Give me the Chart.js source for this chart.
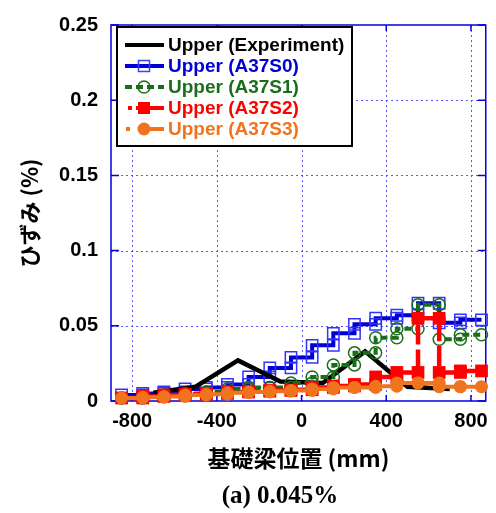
<!DOCTYPE html>
<html>
<head>
<meta charset="utf-8">
<script src="https://cdn.jsdelivr.net/npm/chart.js@4"></script>
<style>
  html, body { margin: 0; padding: 0; background: #fff; }
  canvas { display: block; }
</style>
</head>
<body>
<canvas id="strainChart" width="496" height="513"></canvas>
<script>
// 要素境界位置 (mm)
const elemBounds = [-850, -750, -650, -550, -450, -350, -250, -150, -50, 50, 150, 250, 350, 450, 550, 650, 750, 850];
// 各要素のひずみ (%)
const a37s0 = [0.004, 0.005, 0.006, 0.008, 0.009, 0.011, 0.016, 0.022, 0.029, 0.037, 0.045, 0.051, 0.055, 0.057, 0.065, 0.052, 0.054];
const a37s1 = [0.002, 0.003, 0.004, 0.005, 0.006, 0.008, 0.009, 0.009, 0.012, 0.016, 0.024, 0.032, 0.042, 0.048, 0.064, 0.041, 0.044];
const a37s2 = [0.002, 0.003, 0.004, 0.0045, 0.005, 0.006, 0.0065, 0.007, 0.0075, 0.009, 0.010, 0.011, 0.016, 0.019, 0.055, 0.019, 0.020];
const a37s3 = [0.002, 0.0025, 0.003, 0.004, 0.0045, 0.0055, 0.006, 0.0065, 0.007, 0.008, 0.009, 0.009, 0.0098, 0.012, 0.012, 0.0095, 0.0095];
// 実験値
const expPos = [-700, -500, -300, -100, 100, 300, 500, 700];
const expVal = [0.0055, 0.0095, 0.027, 0.013, 0.012, 0.033, 0.0095, 0.008];

const xTickValues = [-800, -400, 0, 400, 800];
const xTickLabels = ['-800', '-400', '0', '400', '800'];
const yTickValues = [0, 0.05, 0.1, 0.15, 0.2, 0.25];
const yTickLabels = ['0', '0.05', '0.1', '0.15', '0.2', '0.25'];

const seriesNames = ['Upper (Experiment)', 'Upper (A37S0)', 'Upper (A37S1)', 'Upper (A37S2)', 'Upper (A37S3)'];

const BLACK = '#000000', BLUE = '#0000d2', GREEN = '#1a6e1a', RED = '#ff0000', ORANGE = '#f0731e';

// 要素ごとの値を階段状の点列にする
function steps(vals) {
  const pts = [];
  vals.forEach((v, i) => {
    pts.push({ x: elemBounds[i], y: v }, { x: elemBounds[i + 1], y: v });
  });
  return pts;
}

const LATIN = '"Liberation Sans", Arial, sans-serif';
const CJK = '"Noto Sans CJK JP", "Liberation Sans", sans-serif';

// 枠・グリッド・凡例・キャプション
const framePlugin = {
  id: 'frame',
  beforeDatasetsDraw(chart) {
    const { ctx, chartArea: a, scales: { x, y } } = chart;
    ctx.save();
    // 点線グリッド
    ctx.strokeStyle = 'rgba(60,60,255,0.85)';
    ctx.lineWidth = 1;
    ctx.setLineDash([2, 3]);
    xTickValues.forEach(v => {
      const px = Math.round(x.getPixelForValue(v)) + 0.5;
      ctx.beginPath(); ctx.moveTo(px, a.top); ctx.lineTo(px, a.bottom); ctx.stroke();
    });
    yTickValues.slice(1, -1).forEach(v => {
      const py = Math.round(y.getPixelForValue(v)) + 0.5;
      ctx.beginPath(); ctx.moveTo(a.left, py); ctx.lineTo(a.right, py); ctx.stroke();
    });
    ctx.setLineDash([]);
    // 内向き目盛り
    ctx.strokeStyle = '#0000dd';
    ctx.lineWidth = 1.5;
    xTickValues.forEach(v => {
      const px = x.getPixelForValue(v);
      ctx.beginPath();
      ctx.moveTo(px, a.top); ctx.lineTo(px, a.top + 6);
      ctx.moveTo(px, a.bottom); ctx.lineTo(px, a.bottom - 6);
      ctx.stroke();
    });
    yTickValues.forEach(v => {
      const py = y.getPixelForValue(v);
      ctx.beginPath();
      ctx.moveTo(a.left, py); ctx.lineTo(a.left + 8, py);
      ctx.moveTo(a.right, py); ctx.lineTo(a.right - 8, py);
      ctx.stroke();
    });
    ctx.strokeRect(a.left, a.top, a.right - a.left, a.bottom - a.top);
    ctx.restore();
  },
  afterDatasetsDraw(chart) {
    const ctx = chart.ctx;
    ctx.save();
    // 凡例
    ctx.fillStyle = '#fff';
    ctx.fillRect(117, 27, 235, 119);
    ctx.strokeStyle = '#000';
    ctx.lineWidth = 2;
    ctx.strokeRect(117, 27, 235, 119);
    const colors = [BLACK, BLUE, GREEN, RED, ORANGE];
    colors.forEach((c, i) => {
      const yy = 45 + i * 21;
      ctx.strokeStyle = c;
      ctx.fillStyle = c;
      ctx.lineWidth = 4;
      ctx.setLineDash([]);
      ctx.beginPath();
      if (i === 2) {
        ctx.setLineDash([7, 4]);
        ctx.moveTo(125, yy); ctx.lineTo(164, yy);
      } else if (i === 3) {
        ctx.moveTo(128, yy); ctx.lineTo(132, yy);
        ctx.moveTo(136, yy); ctx.lineTo(164, yy);
      } else if (i === 4) {
        ctx.moveTo(126, yy); ctx.lineTo(130, yy);
        ctx.moveTo(140, yy); ctx.lineTo(164, yy);
      } else {
        ctx.moveTo(125, yy); ctx.lineTo(164, yy);
      }
      ctx.stroke();
      ctx.setLineDash([]);
      if (i === 1) {
        ctx.lineWidth = 1.5; ctx.strokeStyle = '#3c3cff';
        ctx.strokeRect(138.5, yy - 5.5, 11, 11);
      } else if (i === 2) {
        ctx.lineWidth = 1.5;
        ctx.beginPath(); ctx.arc(144, yy, 6, 0, Math.PI * 2); ctx.stroke();
      } else if (i === 3) {
        ctx.fillRect(138, yy - 6, 12, 12);
      } else if (i === 4) {
        ctx.beginPath(); ctx.arc(144, yy, 6.5, 0, Math.PI * 2); ctx.fill();
      }
      ctx.font = 'bold 19px ' + LATIN;
      ctx.textBaseline = 'middle';
      ctx.textAlign = 'left';
      ctx.fillStyle = c;
      ctx.fillText(seriesNames[i], 168, yy + 1);
    });
    ctx.restore();
  },
  afterDraw(chart) {
    const ctx = chart.ctx;
    ctx.save();
    ctx.font = 'bold 25px "Liberation Serif", "Times New Roman", serif';
    ctx.fillStyle = '#000';
    ctx.textAlign = 'center';
    ctx.textBaseline = 'middle';
    ctx.fillText('(a) 0.045%', 280, 497);
    ctx.restore();
  }
};

const common = { showLine: true, tension: 0, clip: false, fill: false };

new Chart(document.getElementById('strainChart'), {
  type: 'scatter',
  data: {
    datasets: [
      { ...common, label: seriesNames[0], data: expPos.map((p, i) => ({ x: p, y: expVal[i] })),
        borderColor: BLACK, borderWidth: 4.5, pointRadius: 0, order: 3 },
      { ...common, label: seriesNames[1], data: steps(a37s0),
        borderColor: BLUE, borderWidth: 4, pointStyle: 'rect', pointRadius: 8,
        pointBorderColor: '#3232ff', pointBorderWidth: 1.5, pointBackgroundColor: 'rgba(0,0,0,0)', order: 4 },
      { ...common, label: seriesNames[2], data: steps(a37s1),
        borderColor: GREEN, borderWidth: 4, borderDash: [7, 4], pointStyle: 'circle', pointRadius: 6,
        pointBorderColor: GREEN, pointBorderWidth: 1.5, pointBackgroundColor: 'rgba(0,0,0,0)', order: 2 },
      { ...common, label: seriesNames[3], data: steps(a37s2),
        borderColor: RED, borderWidth: 4.5, borderDash: [20, 5], pointStyle: 'rect', pointRadius: 9,
        pointBorderColor: RED, pointBorderWidth: 0, pointBackgroundColor: RED, order: 1 },
      { ...common, label: seriesNames[4], data: steps(a37s3),
        borderColor: ORANGE, borderWidth: 4, pointStyle: 'circle', pointRadius: 6.5,
        pointBorderColor: ORANGE, pointBorderWidth: 0, pointBackgroundColor: ORANGE, order: 0 }
    ]
  },
  options: {
    responsive: false,
    animation: false,
    devicePixelRatio: 1,
    events: [],
    layout: { padding: { top: 18, right: 8, left: 0, bottom: 0 } },
    plugins: { legend: { display: false }, tooltip: { enabled: false } },
    scales: {
      x: {
        type: 'linear', min: -900, max: 870,
        grid: { display: false, drawTicks: false }, border: { display: false },
        afterBuildTicks: s => { s.ticks = xTickValues.map(v => ({ value: v })); },
        afterFit: s => { s.height = 112; },
        ticks: {
          color: '#000', padding: 8,
          font: { family: LATIN, size: 20, weight: 'bold' },
          callback: v => xTickLabels[xTickValues.indexOf(v)]
        },
        title: {
          display: true, text: '基礎梁位置 (mm)', color: '#000',
          font: { family: CJK, size: 23, weight: 'bold' },
          padding: { top: 0, bottom: 41 }
        }
      },
      y: {
        type: 'linear', min: 0, max: 0.25,
        grid: { display: false, drawTicks: false }, border: { display: false },
        afterBuildTicks: s => { s.ticks = yTickValues.map(v => ({ value: v })); },
        afterFit: s => { s.width = 111; },
        ticks: {
          color: '#000', padding: 13,
          font: { family: LATIN, size: 20, weight: 'bold' },
          callback: v => yTickLabels[yTickValues.indexOf(v)]
        },
        title: {
          display: true, text: 'ひずみ (%)', color: '#000',
          font: { family: CJK, size: 22, weight: 'bold' },
          padding: { top: 16, bottom: 0 }
        }
      }
    }
  },
  plugins: [framePlugin]
});
</script>
</body>
</html>
